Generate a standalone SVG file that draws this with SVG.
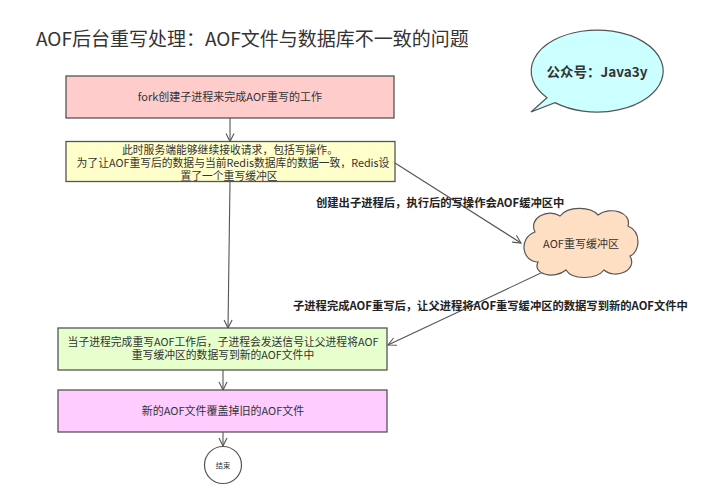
<svg xmlns="http://www.w3.org/2000/svg" width="723" height="493" viewBox="0 0 723 493">
<defs>
<style>
.t{font-family:"Noto Sans CJK SC","Liberation Sans",sans-serif;fill:#333;}
.box{stroke:#555;stroke-width:1.3;}
.c{font-size:11px;text-anchor:middle;}
.s{font-size:10.8px;}
.lbl{font-size:11.3px;font-weight:bold;fill:#222;}
.edge{stroke:#555;stroke-width:1.1;fill:none;}
</style>
<marker id="arr" viewBox="0 0 10 10" refX="9" refY="5" markerWidth="10" markerHeight="10" markerUnits="userSpaceOnUse" orient="auto">
<path d="M1 1 L9 5 L1 9" fill="none" stroke="#555" stroke-width="1.1"/>
</marker>
</defs>
<rect width="723" height="493" fill="#fff"/>
<text class="t" x="36" y="46" font-size="19">AOF后台重写处理：AOF文件与数据库不一致的问题</text>

<g id="bubble">
<path d="M555 102.6 A66 41 0 1 0 547 97.7 L531 112 Z" fill="#ccffff" stroke="#555" stroke-width="1.2"/>
<text class="t" x="597" y="77" font-size="13.5" font-weight="bold" text-anchor="middle" fill="#222">公众号：Java3y</text>
</g>

<g id="connectors">
<line class="edge" x1="230" y1="118" x2="230" y2="141.5" marker-end="url(#arr)"/>
<line class="edge" x1="230" y1="181.5" x2="228" y2="328" marker-end="url(#arr)"/>
<line class="edge" x1="395" y1="163" x2="521" y2="243" marker-end="url(#arr)"/>
<line class="edge" x1="543" y1="272" x2="388" y2="345" marker-end="url(#arr)"/>
<line class="edge" x1="223" y1="370" x2="223" y2="390" marker-end="url(#arr)"/>
<line class="edge" x1="223" y1="432" x2="223" y2="446" marker-end="url(#arr)"/>
<text class="t lbl" x="316" y="207">创建出子进程后，执行后的写操作会AOF缓冲区中</text>
<text class="t lbl" x="293" y="310">子进程完成AOF重写后，让父进程将AOF重写缓冲区的数据写到新的AOF文件中</text>
</g>

<g id="fork">
<rect class="box" x="66" y="76" width="328" height="42" fill="#ffcccc"/>
<text class="t c" x="230" y="101">fork创建子进程来完成AOF重写的工作</text>
</g>

<g id="buffer-setup">
<rect class="box" x="66" y="141.5" width="329" height="40" fill="#ffffcc"/>
<text class="t c s" x="230" y="153.5">此时服务端能够继续接收请求，包括写操作。</text>
<text class="t c s" x="233" y="166.5">为了让AOF重写后的数据与当前Redis数据库的数据一致，Redis设</text>
<text class="t c s" x="229" y="179.5">置了一个重写缓冲区</text>
</g>

<g id="aof-buffer">
<path d="M535 232 C528 218 548 208 560 216 C568 206 590 206 598 215 C610 206 632 212 628 226 C642 232 640 252 630 256 C638 270 616 280 604 270 C596 280 572 280 566 270 C554 280 532 274 538 262 C522 262 518 238 535 232 Z" fill="#ffdfc4" stroke="#555" stroke-width="1.2"/>
<text class="t c" x="581" y="248" font-size="11.5">AOF重写缓冲区</text>
</g>

<g id="signal">
<rect class="box" x="58" y="328" width="329" height="42" fill="#e6ffcc"/>
<text class="t c s" x="223" y="346">当子进程完成重写AOF工作后，子进程会发送信号让父进程将AOF</text>
<text class="t c s" x="223" y="359.3">重写缓冲区的数据写到新的AOF文件中</text>
</g>

<g id="replace">
<rect class="box" x="58" y="390" width="329" height="42" fill="#ffccff"/>
<text class="t c" x="223" y="415">新的AOF文件覆盖掉旧的AOF文件</text>
</g>

<g id="end">
<circle cx="223" cy="465" r="18.5" fill="#fff" stroke="#555" stroke-width="1.2"/>
<text class="t" transform="translate(223 467.5) scale(0.6)" font-size="12" text-anchor="middle">结束</text>
</g>
</svg>
